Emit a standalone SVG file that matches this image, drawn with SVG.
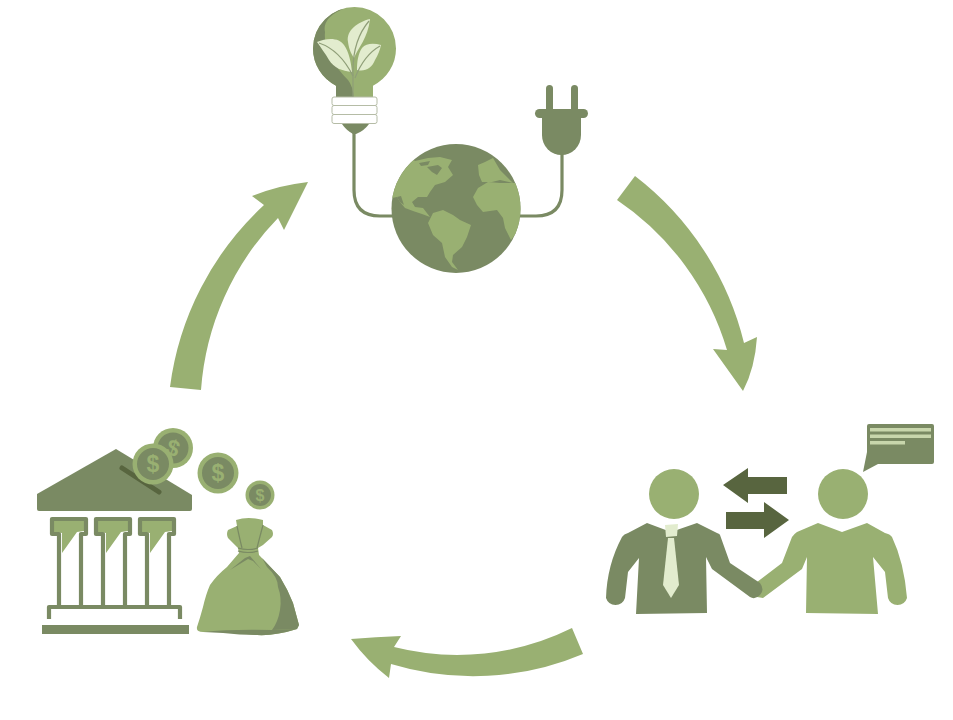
<svg xmlns="http://www.w3.org/2000/svg" width="953" height="720" viewBox="0 0 953 720">
<style>
.l{fill:#99b072}.d{fill:#7a8a63}.x{fill:#58653f}.p{fill:#e2ecce}
.o{fill:none;stroke:#7a8a63;stroke-width:4.2}
.cord{fill:none;stroke:#7a8a63;stroke-width:3.2}
.band{fill:#fff;stroke:#b5bca6;stroke-width:1}
.vein{fill:none;stroke:#8f9e78;stroke-width:1.2}
.usd{font-family:"Liberation Sans",Arial,sans-serif;fill:#99b072;text-anchor:middle;font-weight:700}
</style>
<defs>
<clipPath id="gc"><circle cx="456" cy="208.500" r="64.500"/></clipPath>
<clipPath id="bc"><circle cx="354.500" cy="48.500" r="41.500"/><rect x="336" y="75" width="37" height="24"/></clipPath>
<g id="col">
<path class="l" d="M54,521H84V531L77,532L62,553V533L54,532Z"/>
<path class="o" d="M59,605V534H52V519H86V534H81V605" stroke-linejoin="round"/>
</g>
</defs>
<rect width="953" height="720" fill="#fff"/>
<g id="connectors">
<path class="l" d="M617,200L635,176A300,300 0 0 1 744,343L757,337Q755,368 743,391L713,349L727,350A275,275 0 0 0 617,200Z"/>
<path class="l" d="M583,654A282,282 0 0 1 391,664L389,678Q367,661 351,639Q376,637 401,636L394,647A258,258 0 0 0 572,628Z"/>
<path class="l" d="M170,387A300,300 0 0 1 264,205L252,196Q280,185 308,182L284,230L278,218A275,275 0 0 0 201,390Z"/>
</g>
<g id="energy">
<path class="cord" d="M354,130V190Q354,216 380,216H395"/>
<path class="cord" d="M562,150V190Q562,216 536,216H518"/>
<g clip-path="url(#bc)">
<rect class="l" x="310" y="0" width="90" height="100"/>
<path class="d" d="M343,9Q322,18 325,32Q324,46 330,57Q338,70 348,80Q353,86 354,99H305V0H343Z"/>
</g>
<path class="p" d="M370,19C358,22 346,30 348,42C349,50 352,55 354,58C358,48 368,38 370,19Z"/>
<path class="p" d="M317,42C328,37 340,38 344,45C349,52 351,62 352,72C342,71 334,68 329,60C325,53 321,48 317,42Z"/>
<path class="p" d="M381,45C374,43 366,43 362,48C358,54 357,62 357,70C365,72 372,68 375,60C378,55 380,50 381,45Z"/>
<path class="vein" d="M353,96V70Q353,40 369,21"/>
<path class="vein" d="M353,76Q340,50 319,43"/>
<path class="vein" d="M355,78Q364,55 380,46"/>
<path class="d" d="M342,124H369Q364,131 356,134H353Q346,130 342,124Z"/>
<rect class="band" x="332" y="97" width="45" height="8.500" rx="2"/>
<rect class="band" x="332" y="105.500" width="45" height="9" rx="2"/>
<rect class="band" x="332" y="114.500" width="45" height="9" rx="2"/>
<rect class="d" x="546" y="85" width="7" height="28" rx="3.500"/>
<rect class="d" x="571" y="85" width="7" height="28" rx="3.500"/>
<rect class="d" x="535" y="109" width="53" height="9" rx="4.500"/>
<path class="d" d="M542,115H581V135A19.500,20 0 0 1 542,135Z"/>
<circle class="d" cx="456" cy="208.500" r="64.500"/>
<g clip-path="url(#gc)">
<path class="l" d="M415,161L428,158L440,157L452,160L448,167L453,175L445,182L435,185L430,192L427,197L418,197L412,202L415,207L423,208L430,217L422,214L413,211L405,208L400,202L397,197L392,198L380,190L400,150Z"/>
<path class="d" d="M427,167L438,165L442,168L437,175L432,172ZM419,163L430,161L428,165L421,166ZM397,197L401,196L404,205L400,202Z"/>
<path class="l" d="M428,223L433,213L443,210L453,215L460,220L471,225L467,237L462,247L453,255L452,262L458,270L452,267L445,257L442,243L433,235Z"/>
<path class="l" d="M473,197L478,188L488,182L500,183L515,183L530,190L530,215L511,240L505,228L503,218L497,210L483,212L477,205Z"/>
<path class="l" d="M478,165L485,162L493,158L500,170L513,183L500,180L492,182L482,182L479,175Z"/>
</g>
</g>
<g id="bank">
<path class="d" d="M116,449L37,494V509Q37,511 39,511H190Q192,511 192,509V495Z"/>
<path fill="none" stroke="#58653f" stroke-width="5" stroke-linecap="round" d="M122,468L159,492"/>
<use href="#col"/>
<use href="#col" x="44"/>
<use href="#col" x="88"/>
<path class="o" d="M49,619V607H180V619" stroke-linejoin="round"/>
<rect class="d" x="42" y="625" width="147" height="9"/>
<g id="coin-1"><circle class="l" cx="173" cy="448" r="20"/><circle class="d" cx="173" cy="448" r="15.500"/><text class="usd" x="173" y="456" font-size="23" transform="rotate(20 173 448)">$</text></g>
<g id="coin-2"><circle class="l" cx="153" cy="464" r="20.500"/><circle class="d" cx="153" cy="464" r="16"/><text class="usd" x="153" y="472" font-size="23">$</text></g>
<g id="coin-3"><circle class="l" cx="218" cy="473" r="20.500"/><circle class="d" cx="218" cy="473" r="16"/><text class="usd" x="218" y="481" font-size="23">$</text></g>
<g id="coin-4"><circle class="l" cx="260" cy="495" r="14.500"/><circle class="d" cx="260" cy="495" r="11"/><text class="usd" x="260" y="501" font-size="16">$</text></g>
</g>
<g id="bag">
<path class="l" d="M236,520Q248,516 263,520L263,525L272,530Q274,534 272,537L263,545L258,548L259,555L280,577Q288,590 293,603L299,625L297,629Q275,636 257,635Q240,633 223,632Q210,632 203,632Q196,632 197,627Q200,618 203,607Q206,594 210,585Q217,575 227,567L239,553L238,548L237,547L228,538Q226,534 228,530L237,526Z"/>
<path class="d" d="M267,567Q278,577 278,587Q282,598 280,610Q278,622 272,630L297,629L299,625L293,603Q288,590 280,577L262,558Z"/>
<path class="d" d="M203,632Q230,629 272,630L297,629Q275,636 257,635Q240,635 223,633Z"/>
<path class="d" d="M230,570L245,558L250,556L261,569L253,561L248,559Z"/>
<path fill="none" stroke="#7a8a63" stroke-width="1.200" d="M237,526Q240,540 242,548M263,525Q259,540 257,548M238,548Q248,551 258,548M238,551Q248,554 258,551"/>
</g>
<g id="people">
<circle class="l" cx="674" cy="494" r="25"/>
<circle class="l" cx="843" cy="494" r="25"/>
<path class="l" d="M818,523L842,532L867,523L885,533Q890,534 892,537Q904,562 907,598A10,10 0 0 1 888,598L885,572L873,557L878,614L806,613L807,557L802,569L763,598L757,597L757,582L782,563L792,537Q794,534 797,532Z"/>
<path class="d" d="M647,523L671,532L697,523L717,533Q720,534 720,535L730,563L760,583Q765,590 760,595Q755,600 750,597L712,569L706,557L707,613L636,614L639,558L628,572L625,598A10,10 0 0 1 606,598Q607,565 622,537Q624,534 628,533Z"/>
<path class="p" d="M665,525L678,524L677,536L666,537Z"/>
<path class="p" d="M668,538H674L679,585L671,598L663,585Z"/>
<path class="x" d="M723,485L748,468V477H787V494H748V503Z"/>
<path class="x" d="M726,512H764V502L789,520L764,538V529H726Z"/>
<path class="d" d="M869,424H932Q934,424 934,426V462Q934,464 932,464H878L863,472L867,452V426Q867,424 869,424Z"/>
<rect x="870" y="428" width="61" height="3.500" fill="#c8d6ac"/>
<rect x="870" y="434.500" width="61" height="3.500" fill="#c8d6ac"/>
<rect x="870" y="441" width="35" height="3.500" fill="#c8d6ac"/>
</g>
</svg>
